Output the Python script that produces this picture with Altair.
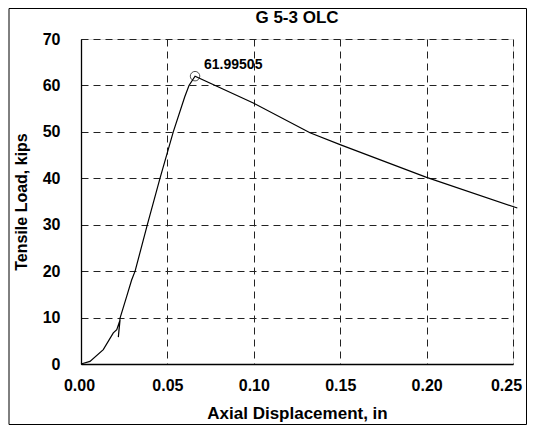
import altair as alt
import pandas as pd

# Axial displacement (in) and tensile load (kips)
disp = [0.0, 0.0052, 0.0129, 0.0187, 0.0207, 0.0226, 0.0216, 0.0226, 0.0264,
        0.0293, 0.0313, 0.0384, 0.0457, 0.0534, 0.0600, 0.0625, 0.0660,
        0.0997, 0.1325, 0.1503, 0.2000, 0.2525]
load = [0.0, 0.56, 3.1, 6.7, 7.4, 9.5, 5.8, 9.9, 14.5,
        18.1, 20.0, 30.0, 40.0, 50.0, 57.5, 60.0, 61.99505,
        56.2, 49.8, 47.2, 40.2, 33.6]
peak_disp = [0.0660]
peak_load = [61.99505]
peak_text = ["61.99505"]
chart_title = ["G 5-3 OLC"]

x_ticks = [0.0, 0.05, 0.10, 0.15, 0.20, 0.25]
y_ticks = [0, 10, 20, 30, 40, 50, 60, 70]

df = pd.DataFrame({"disp": disp, "load": load, "idx": list(range(len(disp)))})
peak = pd.DataFrame({"disp": peak_disp, "load": peak_load, "label": peak_text})
tdf = pd.DataFrame({"t": chart_title})

FONT = "Liberation Sans"

xscale = alt.Scale(domain=[0, 0.25], nice=False, zero=True)
yscale = alt.Scale(domain=[0, 70], nice=False)

xaxis = alt.Axis(values=x_ticks, format=".2f", title="Axial Displacement, in",
                 grid=True, gridDash=[7, 5], gridColor="#222", gridWidth=1,
                 ticks=False, domainColor="black", domainWidth=1.3,
                 labelFlush=False, labelOverlap=False,
                 labelOffset=alt.expr("datum.value > 0.24 ? -7 : (datum.value < 0.01 ? -2 : 0)"),
                 labelFont=FONT, labelFontSize=16, labelFontWeight="bold",
                 labelColor="black", labelPadding=13,
                 titleFont=FONT, titleFontSize=17, titleFontWeight="bold",
                 titleColor="black", titlePadding=12)
yaxis = alt.Axis(values=y_ticks, format="d", title="Tensile Load, kips",
                 grid=True, gridDash=[7, 5], gridColor="#222", gridWidth=1,
                 ticks=False, domainColor="black", domainWidth=1.3,
                 labelFlush=False, labelOverlap=False,
                 labelFont=FONT, labelFontSize=16, labelFontWeight="bold",
                 labelColor="black", labelPadding=21,
                 titleFont=FONT, titleFontSize=16, titleFontWeight="bold",
                 titleColor="black", titlePadding=13)

line = alt.Chart(df).mark_line(color="black", strokeWidth=1.2).encode(
    x=alt.X("disp:Q", scale=xscale, axis=xaxis),
    y=alt.Y("load:Q", scale=yscale, axis=yaxis),
    order="idx:Q",
)

marker = alt.Chart(peak).mark_point(shape="circle", filled=False, color="black",
                                     size=90, strokeWidth=1).encode(
    x=alt.X("disp:Q", scale=xscale),
    y=alt.Y("load:Q", scale=yscale),
)

label = alt.Chart(peak).mark_text(align="left", baseline="alphabetic", dx=9, dy=-7,
                                  font=FONT, fontSize=14, fontWeight="bold",
                                  color="black").encode(
    x=alt.X("disp:Q", scale=xscale),
    y=alt.Y("load:Q", scale=yscale),
    text="label:N",
)

title = alt.Chart(tdf).mark_text(align="center", baseline="middle",
                                 font=FONT, fontSize=17, fontWeight="bold",
                                 color="black").encode(
    x=alt.value(216), y=alt.value(-21), text="t:N",
)

border = alt.Chart(tdf).mark_rect(fill=None, stroke="black", strokeWidth=1).encode(
    x=alt.value(-72), x2=alt.value(445.5), y=alt.value(-30.5), y2=alt.value(385.5),
)

chart = alt.layer(line, marker, label, title, border).properties(
    width=432, height=325,
    autosize=alt.AutoSizeParams(type="none"),
    padding={"left": 73, "top": 31, "right": 14, "bottom": 61},
).configure_view(stroke=None).configure(background="white")

chart.save("out.html", embed_options={"renderer": "svg", "actions": False})
